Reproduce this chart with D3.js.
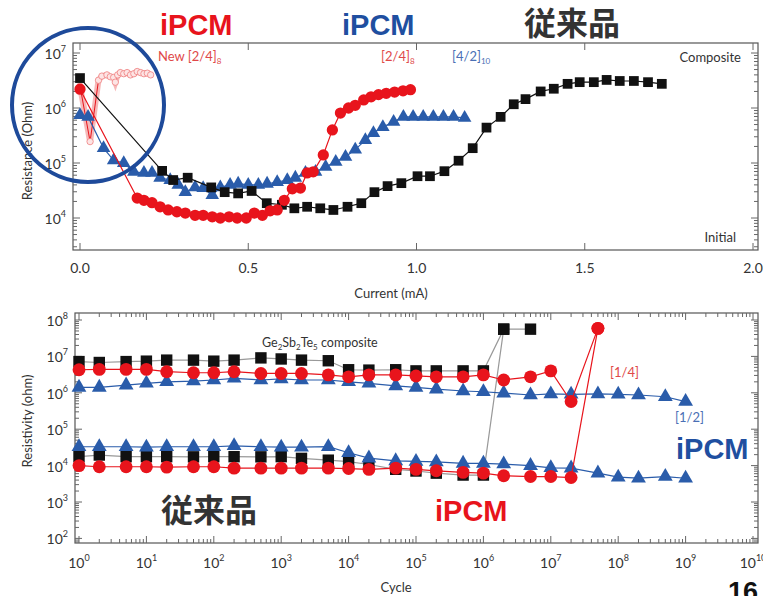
<!DOCTYPE html>
<html><head><meta charset="utf-8">
<script src="https://cdn.jsdelivr.net/npm/d3@7"></script>
<style>body{margin:0;background:#fff}svg{display:block}</style>
</head><body><svg id="c" width="763" height="596"></svg>
<script>
// ---------- TOP CHART DATA (Current mA vs Resistance Ohm) ----------
const topXTicks = [0, 0.5, 1.0, 1.5, 2.0];
const topXTickLabels = ["0.0", "0.5", "1.0", "1.5", "2.0"];
const topYTicks = [1e4, 1e5, 1e6, 1e7];
const topYExps = ["4", "5", "6", "7"];

const compCurrent = [0, 0.244, 0.277, 0.32, 0.39, 0.43, 0.47, 0.51, 0.555, 0.60, 0.637, 0.675, 0.714, 0.753, 0.795, 0.836, 0.875, 0.914, 0.955, 1.003, 1.04, 1.083, 1.125, 1.167, 1.208, 1.25, 1.289, 1.324, 1.369, 1.408, 1.449, 1.485, 1.527, 1.565, 1.604, 1.646, 1.688, 1.729];
const compRes = [3.5e6, 7.2e4, 4.9e4, 5.4e4, 3.6e4, 2.95e4, 2.8e4, 3.1e4, 1.86e4, 1.74e4, 1.5e4, 1.6e4, 1.5e4, 1.4e4, 1.6e4, 1.86e4, 2.95e4, 3.8e4, 4.3e4, 5.75e4, 5.75e4, 7.1e4, 1.1e5, 1.86e5, 4.4e5, 6.9e5, 1.17e6, 1.45e6, 2.0e6, 2.24e6, 2.75e6, 2.95e6, 2.95e6, 3.24e6, 3.1e6, 3.1e6, 2.95e6, 2.75e6];

const ipcm24Current = [0, 0.17, 0.19, 0.214, 0.238, 0.262, 0.288, 0.313, 0.342, 0.366, 0.393, 0.417, 0.443, 0.467, 0.494, 0.518, 0.542, 0.565, 0.586, 0.607, 0.631, 0.655, 0.675, 0.693, 0.723, 0.75, 0.774, 0.798, 0.818, 0.843, 0.865, 0.887, 0.91, 0.935, 0.96, 0.982];
const ipcm24Res = [2.2e6, 2.3e4, 2.1e4, 1.9e4, 1.6e4, 1.4e4, 1.3e4, 1.23e4, 1.12e4, 1.12e4, 1.05e4, 1.0e4, 1.05e4, 1.0e4, 1.0e4, 1.23e4, 1.12e4, 1.35e4, 1.4e4, 2.1e4, 3.4e4, 3.5e4, 6.6e4, 6.9e4, 1.4e5, 4.0e5, 8.1e5, 1.0e6, 1.12e6, 1.4e6, 1.6e6, 1.75e6, 1.85e6, 1.95e6, 2.05e6, 2.15e6];

const ipcm42Current = [0, 0.024, 0.07, 0.1, 0.13, 0.16, 0.19, 0.214, 0.238, 0.268, 0.292, 0.313, 0.342, 0.366, 0.393, 0.417, 0.446, 0.47, 0.5, 0.53, 0.556, 0.586, 0.616, 0.64, 0.67, 0.7, 0.73, 0.76, 0.789, 0.818, 0.848, 0.872, 0.9, 0.932, 0.961, 0.99, 1.02, 1.05, 1.08, 1.11, 1.143];
const ipcm42Res = [7.4e5, 6.9e5, 1.86e5, 1.12e5, 1.0e5, 6.9e4, 6.6e4, 6.6e4, 5.4e4, 4.9e4, 4.0e4, 2.95e4, 3.6e4, 3.5e4, 2.6e4, 3.6e4, 4.0e4, 4.2e4, 4.0e4, 4.0e4, 4.2e4, 4.5e4, 4.9e4, 5.4e4, 6.6e4, 6.9e4, 8.5e4, 1.05e5, 1.3e5, 1.75e5, 2.6e5, 3.5e5, 4.5e5, 5.6e5, 6.9e5, 6.9e5, 6.9e5, 6.9e5, 6.9e5, 6.9e5, 6.6e5];

const newCurrent = [0, 0.03, 0.055, 0.065, 0.08, 0.09, 0.1, 0.105, 0.112, 0.12, 0.13, 0.14, 0.15, 0.16, 0.17, 0.18, 0.19, 0.2, 0.21];
const newRes = [2.5e6, 2.45e5, 3.2e6, 3.8e6, 4.0e6, 3.7e6, 3.6e6, 2.95e6, 4.0e6, 4.4e6, 4.2e6, 4.4e6, 4.0e6, 4.2e6, 4.6e6, 4.4e6, 4.2e6, 4.3e6, 4.0e6];

// ---------- BOTTOM CHART DATA (Cycle vs Resistivity) ----------
const botXTicks = [1, 1e1, 1e2, 1e3, 1e4, 1e5, 1e6, 1e7, 1e8, 1e9, 1e10];
const botXExps = ["0", "1", "2", "3", "4", "5", "6", "7", "8", "9", "10"];
const botYTicks = [1e2, 1e3, 1e4, 1e5, 1e6, 1e7, 1e8];
const botYExps = ["2", "3", "4", "5", "6", "7", "8"];

const cycles = [1, 2, 5, 10, 20, 50, 100, 200, 500, 1e3, 2e3, 5e3, 1e4, 2e4, 5e4, 1e5, 2e5, 5e5, 1e6, 2e6, 5e6, 1e7, 2e7, 5e7, 1e8, 2e8, 5e8, 1e9];

const gstHighCycles = [1, 2, 5, 10, 20, 50, 100, 200, 500, 1e3, 2e3, 5e3, 1e4, 2e4, 5e4, 1e5, 2e5, 5e5, 1e6, 2e6, 5e6];
const gstHigh = [7.2e6, 6.8e6, 7.2e6, 7.4e6, 7.9e6, 7.9e6, 7.4e6, 7.9e6, 9.1e6, 8.5e6, 7.9e6, 7.6e6, 4.3e6, 4.2e6, 4.3e6, 4.0e6, 4.0e6, 4.0e6, 4.0e6, 5.6e7, 5.6e7];
const gstLowCycles = [1, 2, 5, 10, 20, 50, 100, 200, 500, 1e3, 2e3, 5e3, 1e4, 2e4, 5e4, 1e5, 2e5, 5e5, 1e6, 2e6];
const gstLow = [1.76e4, 1.95e4, 1.76e4, 1.76e4, 1.76e4, 1.74e4, 1.76e4, 1.76e4, 1.74e4, 1.76e4, 1.58e4, 1.41e4, 1.29e4, 1.07e4, 7.9e3, 7.1e3, 6.2e3, 5.5e3, 5.5e3, 5.6e7];

const red14HighCycles = cycles.slice(0, 24);
const red14High = [4.3e6, 4.4e6, 4.4e6, 4.4e6, 3.8e6, 3.55e6, 3.55e6, 3.8e6, 3.4e6, 3.4e6, 3.4e6, 3.1e6, 2.75e6, 3.1e6, 3.1e6, 2.9e6, 2.75e6, 2.75e6, 3.1e6, 2.25e6, 2.75e6, 4.0e6, 5.75e5, 5.9e7];
const red14LowCycles = cycles.slice(0, 24);
const red14Low = [1.0e4, 9.3e3, 9.3e3, 9.3e3, 9.1e3, 9.3e3, 9.3e3, 8.5e3, 8.5e3, 8.5e3, 8.5e3, 8.5e3, 8.3e3, 7.9e3, 8.5e3, 7.9e3, 7.2e3, 6.5e3, 6.2e3, 5.25e3, 5.0e3, 5.0e3, 4.7e3, 5.9e7];

const blue12High = [1.41e6, 1.41e6, 1.62e6, 1.82e6, 2.0e6, 2.1e6, 2.25e6, 2.5e6, 2.25e6, 2.4e6, 2.25e6, 2.25e6, 2.0e6, 1.82e6, 1.55e6, 1.41e6, 1.26e6, 1.12e6, 1.07e6, 9.8e5, 8.7e5, 9.3e5, 9.1e5, 9.3e5, 9.1e5, 8.7e5, 7.8e5, 5.75e5];
const blue12Low = [3.3e4, 3.3e4, 3.3e4, 3.2e4, 3.3e4, 3.3e4, 3.3e4, 3.5e4, 3.3e4, 3.2e4, 3.2e4, 3.3e4, 2.25e4, 1.6e4, 1.35e4, 1.3e4, 1.26e4, 1.15e4, 1.15e4, 1.1e4, 1.0e4, 8.7e3, 8.5e3, 6.2e3, 4.8e3, 4.5e3, 5.0e3, 4.5e3];

// ---------- STYLE ----------
const RED = "#e8141c", BLUE = "#2a5caa", BLK = "#111", DARK = "#333";
const TICKFONT = "Lato, 'Open Sans', sans-serif";
const svg = d3.select("#c");

// ---------- helpers ----------
function frame(g, x0, x1, y0, y1) {
  g.append("rect").attr("x", x0).attr("y", y0).attr("width", x1 - x0).attr("height", y1 - y0)
    .attr("fill", "none").attr("stroke", "#555").attr("stroke-width", 1.2);
}
function tickLines(g, vals, scale, orient, x0, x1, y0, y1, len) {
  vals.forEach(v => {
    const p = scale(v);
    if (orient === "x") {
      if (p < x0 || p > x1) return;
      g.append("line").attr("x1", p).attr("x2", p).attr("y1", y1).attr("y2", y1 - len).attr("stroke", "#666");
      g.append("line").attr("x1", p).attr("x2", p).attr("y1", y0).attr("y2", y0 + len).attr("stroke", "#666");
    } else {
      if (p < y0 || p > y1) return;
      g.append("line").attr("y1", p).attr("y2", p).attr("x1", x0).attr("x2", x0 + len).attr("stroke", "#666");
      g.append("line").attr("y1", p).attr("y2", p).attr("x1", x1).attr("x2", x1 - len).attr("stroke", "#666");
    }
  });
}
function minorLog(lo, hi) {
  const out = [];
  for (let e = lo; e <= hi; e++) for (let m = 2; m <= 9; m++) out.push(m * Math.pow(10, e));
  return out;
}
function powLabel(g, x, y, exp, anchor) {
  const t = g.append("text").attr("x", x).attr("y", y).attr("text-anchor", anchor)
    .attr("font-family", TICKFONT).attr("font-size", 14).attr("fill", DARK).text("10");
  t.append("tspan").attr("dy", -7).attr("font-size", 9).text(exp);
  return t;
}
function marks(g, xs, ys, sx, sy, type, size, fill) {
  const sym = d3.symbol().type(type).size(size);
  g.selectAll(null).data(xs.map((x, i) => [x, ys[i]])).enter().append("path")
    .attr("d", sym).attr("fill", fill)
    .attr("transform", d => `translate(${sx(d[0])},${sy(d[1])})`);
}
function line(g, xs, ys, sx, sy, color, w) {
  const gen = d3.line().x(d => sx(d[0])).y(d => sy(d[1]));
  g.append("path").attr("d", gen(xs.map((x, i) => [x, ys[i]]))).attr("fill", "none")
    .attr("stroke", color).attr("stroke-width", w);
}

// ================= TOP CHART =================
const T = {x0: 73, x1: 758, y0: 43, y1: 250};
const xT = d3.scaleLinear().domain([0, 2]).range([80, 753]);
const yT = d3.scaleLog().domain([1e4, 1e7]).range([218, 53]);
const gT = svg.append("g");
frame(gT, T.x0, T.x1, T.y0, T.y1);
tickLines(gT, topXTicks, xT, "x", T.x0, T.x1, T.y0, T.y1, 7);
tickLines(gT, topYTicks, yT, "y", T.x0, T.x1, T.y0, T.y1, 7);
tickLines(gT, minorLog(3, 6), yT, "y", T.x0, T.x1, T.y0, T.y1, 4);
topXTicks.forEach((v, i) => gT.append("text").attr("x", xT(v)).attr("y", 273).attr("text-anchor", "middle")
  .attr("font-family", TICKFONT).attr("font-size", 14).attr("fill", DARK).text(topXTickLabels[i]));
topYTicks.forEach((v, i) => powLabel(gT, 66, yT(v) + 6, topYExps[i], "end"));
gT.append("text").attr("x", 391).attr("y", 298).attr("text-anchor", "middle")
  .attr("font-family", TICKFONT).attr("font-size", 13).attr("fill", DARK).text("Current (mA)");
gT.append("text").attr("transform", "translate(32,151) rotate(-90)").attr("text-anchor", "middle")
  .attr("font-family", TICKFONT).attr("font-size", 13).attr("fill", DARK).text("Resistance (Ohm)");

// New [2/4]8 pink trace
const gNew = gT.append("g");
line(gNew, newCurrent, newRes, xT, yT, "#f6b8b8", 6);
line(gNew, newCurrent, newRes, xT, yT, RED, 1);
gNew.selectAll(null).data(newCurrent.map((x, i) => [x, newRes[i]])).enter().append("circle")
  .attr("cx", d => xT(d[0])).attr("cy", d => yT(d[1])).attr("r", 3.2)
  .attr("fill", "#fde4e4").attr("stroke", "#ef8080").attr("stroke-width", 0.8);

line(gT, ipcm42Current, ipcm42Res, xT, yT, BLUE, 1.2);
marks(gT, ipcm42Current, ipcm42Res, xT, yT, d3.symbolTriangle, 80, BLUE);
line(gT, compCurrent, compRes, xT, yT, BLK, 1.2);
marks(gT, compCurrent, compRes, xT, yT, d3.symbolSquare, 95, BLK);
line(gT, ipcm24Current, ipcm24Res, xT, yT, RED, 1.2);
marks(gT, ipcm24Current, ipcm24Res, xT, yT, d3.symbolCircle, 100, RED);

// annotations top
function sub(g, x, y, main, subTxt, color, size) {
  const t = g.append("text").attr("x", x).attr("y", y).attr("font-family", TICKFONT)
    .attr("font-size", size).attr("fill", color).text(main);
  t.append("tspan").attr("dy", 3).attr("font-size", size * 0.62).text(subTxt);
}
sub(gT, 158, 61, "New [2/4]", "8", "#e04848", 13);
sub(gT, 381, 61, "[2/4]", "8", "#e04848", 13);
sub(gT, 452, 61, "[4/2]", "10", "#4a6fb5", 13);
gT.append("text").attr("x", 741).attr("y", 62).attr("text-anchor", "end").attr("font-family", TICKFONT)
  .attr("font-size", 13).attr("fill", DARK).text("Composite");
gT.append("text").attr("x", 736).attr("y", 242).attr("text-anchor", "end").attr("font-family", TICKFONT)
  .attr("font-size", 13).attr("fill", DARK).text("Initial");

// big labels top
const BIG = "'Liberation Sans', Arial, sans-serif";
svg.append("text").attr("x", 160).attr("y", 35).attr("font-family", BIG).attr("font-weight", "bold")
  .attr("font-size", 29).attr("fill", RED).text("iPCM");
svg.append("text").attr("x", 342).attr("y", 35).attr("font-family", BIG).attr("font-weight", "bold")
  .attr("font-size", 29).attr("fill", "#1f4fa0").text("iPCM");
svg.append("text").attr("x", 524).attr("y", 35).attr("font-family", "'Noto Sans CJK JP', sans-serif").attr("font-weight", "bold")
  .attr("font-size", 32).attr("fill", DARK).text("従来品");

// blue circle highlight
svg.append("ellipse").attr("cx", 88).attr("cy", 105).attr("rx", 76).attr("ry", 77)
  .attr("fill", "none").attr("stroke", "#1e4a9a").attr("stroke-width", 4);

// ================= BOTTOM CHART =================
const B = {x0: 75, x1: 758, y0: 313, y1: 543};
const xB = d3.scaleLog().domain([1, 1e10]).range([79, 753]);
const yB = d3.scaleLog().domain([1e2, 1e8]).range([538.4, 320]);
const gB = svg.append("g");
frame(gB, B.x0, B.x1, B.y0, B.y1);
tickLines(gB, botXTicks, xB, "x", B.x0, B.x1, B.y0, B.y1, 7);
tickLines(gB, minorLog(0, 9), xB, "x", B.x0, B.x1, B.y0, B.y1, 4);
tickLines(gB, botYTicks, yB, "y", B.x0, B.x1, B.y0, B.y1, 7);
tickLines(gB, minorLog(1, 8), yB, "y", B.x0, B.x1, B.y0, B.y1, 4);
botXTicks.forEach((v, i) => powLabel(gB, xB(v), 568, botXExps[i], "middle"));
botYTicks.forEach((v, i) => powLabel(gB, 68, yB(v) + 6, botYExps[i], "end"));
gB.append("text").attr("x", 396).attr("y", 592).attr("text-anchor", "middle")
  .attr("font-family", TICKFONT).attr("font-size", 13).attr("fill", DARK).text("Cycle");
gB.append("text").attr("transform", "translate(32,421) rotate(-90)").attr("text-anchor", "middle")
  .attr("font-family", TICKFONT).attr("font-size", 13).attr("fill", DARK).text("Resistivity (ohm)");

line(gB, gstHighCycles, gstHigh, xB, yB, "#999", 1.2);
line(gB, gstLowCycles, gstLow, xB, yB, "#999", 1.2);
marks(gB, gstHighCycles, gstHigh, xB, yB, d3.symbolSquare, 130, BLK);
marks(gB, gstLowCycles, gstLow, xB, yB, d3.symbolSquare, 130, BLK);
line(gB, cycles, blue12High, xB, yB, BLUE, 1.2);
line(gB, cycles, blue12Low, xB, yB, BLUE, 1.2);
marks(gB, cycles, blue12High, xB, yB, d3.symbolTriangle, 95, BLUE);
marks(gB, cycles, blue12Low, xB, yB, d3.symbolTriangle, 95, BLUE);
line(gB, red14HighCycles, red14High, xB, yB, RED, 1.2);
line(gB, red14LowCycles, red14Low, xB, yB, RED, 1.2);
marks(gB, red14HighCycles, red14High, xB, yB, d3.symbolCircle, 130, RED);
marks(gB, red14LowCycles, red14Low, xB, yB, d3.symbolCircle, 130, RED);

// annotations bottom
const gst = gB.append("text").attr("x", 262).attr("y", 347).attr("font-family", TICKFONT)
  .attr("font-size", 12.5).attr("fill", DARK);
[["Ge", 0], ["2", 1], ["Sb", 0], ["2", 1], ["Te", 0], ["5", 1], [" composite", 0]].forEach((p, i, arr) => {
  const prev = i > 0 ? arr[i - 1][1] : 0;
  const dy = p[1] === prev ? 0 : (p[1] ? 3 : -3);
  gst.append("tspan").attr("dy", dy).attr("font-size", p[1] ? 8 : 12.5).text(p[0]);
});
gB.append("text").attr("x", 610).attr("y", 377).attr("font-family", TICKFONT)
  .attr("font-size", 13).attr("fill", "#e04848").text("[1/4]");
gB.append("text").attr("x", 675).attr("y", 422).attr("font-family", TICKFONT)
  .attr("font-size", 13).attr("fill", "#4a6fb5").text("[1/2]");

svg.append("text").attr("x", 676).attr("y", 459).attr("font-family", BIG).attr("font-weight", "bold")
  .attr("font-size", 29).attr("fill", "#1f4fa0").text("iPCM");
svg.append("text").attr("x", 435).attr("y", 521).attr("font-family", BIG).attr("font-weight", "bold")
  .attr("font-size", 29).attr("fill", RED).text("iPCM");
svg.append("text").attr("x", 161).attr("y", 522).attr("font-family", "'Noto Sans CJK JP', sans-serif").attr("font-weight", "bold")
  .attr("font-size", 32).attr("fill", DARK).text("従来品");
svg.append("text").attr("x", 728).attr("y", 601).attr("font-family", BIG).attr("font-weight", "bold")
  .attr("font-size", 27).attr("fill", "#111").text("16");
</script></body></html>
